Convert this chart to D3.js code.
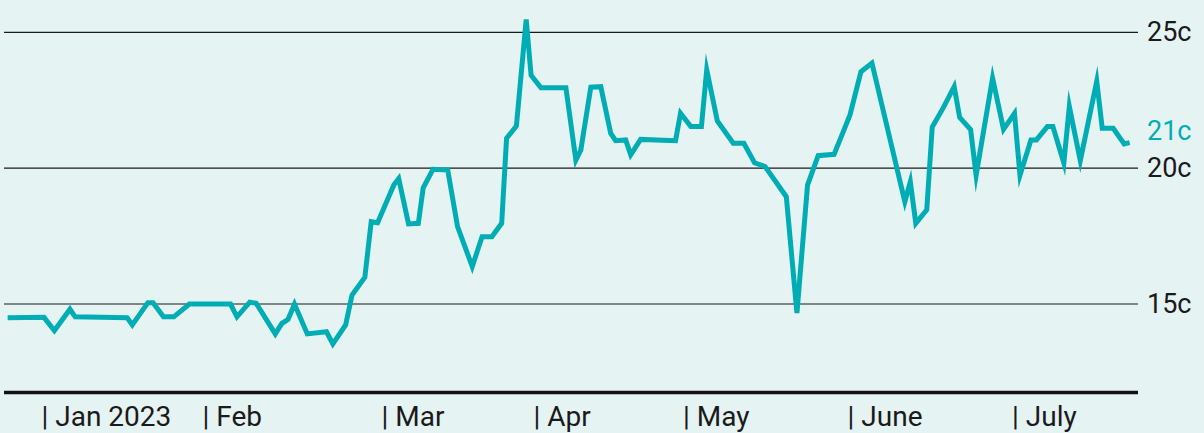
<!DOCTYPE html>
<meta charset="utf-8">
<script src="https://d3js.org/d3.v7.min.js"></script>
<style>
body { margin: 0; background: #e6f3f3; }
svg text { font-family: Roboto, "DejaVu Sans", sans-serif; }
</style>
<div id="chart"></div>
<script>

// price in cents
var dates = [
  "2022-12-25","2023-01-01","2023-01-03","2023-01-06","2023-01-07","2023-01-17","2023-01-18",
  "2023-01-21","2023-01-22","2023-01-24","2023-01-26","2023-01-29","2023-02-05","2023-02-06",
  "2023-02-08","2023-02-09","2023-02-12","2023-02-13","2023-02-14","2023-02-15","2023-02-17",
  "2023-02-20","2023-02-21","2023-02-23","2023-02-24","2023-02-26","2023-02-27","2023-02-28",
  "2023-03-03","2023-03-04","2023-03-06","2023-03-08","2023-03-09","2023-03-11","2023-03-14",
  "2023-03-16","2023-03-19","2023-03-21","2023-03-23","2023-03-25","2023-03-26","2023-03-28",
  "2023-03-30","2023-03-31","2023-04-02","2023-04-07","2023-04-09","2023-04-10","2023-04-12",
  "2023-04-14","2023-04-16","2023-04-17","2023-04-19","2023-04-20","2023-04-22","2023-04-29",
  "2023-04-30","2023-05-02","2023-05-04","2023-05-05","2023-05-07","2023-05-10","2023-05-12",
  "2023-05-14","2023-05-16","2023-05-20","2023-05-22","2023-05-24","2023-05-26","2023-05-29",
  "2023-06-01","2023-06-03","2023-06-05","2023-06-11","2023-06-12","2023-06-13","2023-06-15",
  "2023-06-16","2023-06-18","2023-06-20","2023-06-21","2023-06-23","2023-06-24","2023-06-27",
  "2023-06-29","2023-07-01","2023-07-02","2023-07-04","2023-07-05","2023-07-07","2023-07-08",
  "2023-07-10","2023-07-11","2023-07-13","2023-07-16","2023-07-17","2023-07-19","2023-07-21",
  "2023-07-22"
];
var cents = [
  14.48, 14.49, 14.0, 14.79, 14.51, 14.48, 14.21,
  15.03, 15.03, 14.51, 14.51, 14.98, 14.98, 14.51,
  15.05, 15.01, 13.88, 14.26, 14.42, 14.98, 13.88,
  13.96, 13.51, 14.21, 15.31, 15.96, 18.01, 17.97,
  19.36, 19.6, 17.93, 17.95, 19.26, 19.94, 19.91,
  17.83, 16.36, 17.46, 17.46, 17.95, 21.08, 21.53,
  25.45, 23.4, 22.94, 22.94, 20.28, 20.65, 22.96,
  22.98, 21.26, 20.99, 21.02, 20.47, 21.04, 20.99,
  22.0, 21.51, 21.51, 23.6, 21.72, 20.9, 20.9,
  20.18, 20.04, 18.93, 14.65, 19.36, 20.44, 20.49,
  21.94, 23.53, 23.85, 18.75, 19.48, 17.95, 18.45,
  21.5, 22.2, 22.98, 21.85, 21.4, 19.72, 23.3,
  21.41, 22.0, 19.72, 21.02, 21.02, 21.51, 21.51,
  20.17, 22.25, 20.25, 23.18, 21.45, 21.45, 20.87,
  20.92
];
var yTicks = [15, 20, 25];
var monthStarts = ["2023-01-01","2023-02-01","2023-03-01","2023-04-01","2023-05-01","2023-06-01","2023-07-01"];
var monthLabels = ["Jan 2023","Feb","Mar","Apr","May","June","July"];
var lastLabel = "21c";

var teal = "#00adb4";
var ink = "#1a1a1a";

// layout
var width = 1204, height = 433;
var left = 4, right = 1138, bottom = 392.5;
var monthPx = [44, 205, 384, 536, 685.5, 850, 1014.5];

var parse = d3.timeParse("%Y-%m-%d");
var data = dates.map(function(d, i) { return {date: parse(d), v: cents[i]}; });

var svg = d3.select("#chart")
  .append("svg")
    .attr("width", width)
    .attr("height", height);

svg.append("rect")
  .attr("width", width)
  .attr("height", height)
  .attr("fill", "#e6f3f3");

var x = d3.scaleTime()
  .domain(monthStarts.map(parse))
  .range(monthPx);

var y = d3.scaleLinear()
  .domain([15, 25])
  .range([303.5, 31.8]);

// gridlines + labels on the right
var yAxis = svg.append("g")
  .attr("transform", "translate(" + right + ",0)")
  .call(d3.axisRight(y)
    .tickValues(yTicks)
    .tickSize(-(right - left))
    .tickPadding(9)
    .tickFormat(function(d) { return d + "c"; }));
yAxis.select(".domain").remove();
yAxis.selectAll("line").attr("stroke", ink).attr("stroke-width", 1.2);
yAxis.selectAll("text")
  .attr("fill", ink)
  .style("font-size", "27px")
  .attr("dy", "0.34em");

// month labels
var xAxis = svg.append("g")
  .attr("transform", "translate(0," + bottom + ")")
  .call(d3.axisBottom(x)
    .tickValues(monthStarts.map(parse))
    .tickSize(0)
    .tickFormat(function(d, i) { return "| " + monthLabels[i]; }));
xAxis.select(".domain").remove();
xAxis.selectAll("text")
  .attr("text-anchor", "start")
  .attr("x", -3)
  .attr("y", 33.5)
  .attr("dy", null)
  .attr("fill", ink)
  .style("font-size", "28px");

// baseline
svg.append("line")
  .attr("x1", left)
  .attr("x2", right)
  .attr("y1", bottom)
  .attr("y2", bottom)
  .attr("stroke", "#111")
  .attr("stroke-width", 3.5);

var line = d3.line()
  .x(function(d) { return x(d.date); })
  .y(function(d) { return y(d.v); });

svg.append("path")
  .datum(data)
  .attr("d", line)
  .attr("fill", "none")
  .attr("stroke", teal)
  .attr("stroke-width", 5)
  .attr("stroke-linejoin", "miter")
  .attr("stroke-miterlimit", 10);

// last value label
var last = data[data.length - 1];
svg.append("text")
  .attr("x", right + 9)
  .attr("y", y(last.v))
  .attr("dy", "-0.1em")
  .attr("fill", teal)
  .style("font-size", "27px")
  .text(lastLabel);

</script>
